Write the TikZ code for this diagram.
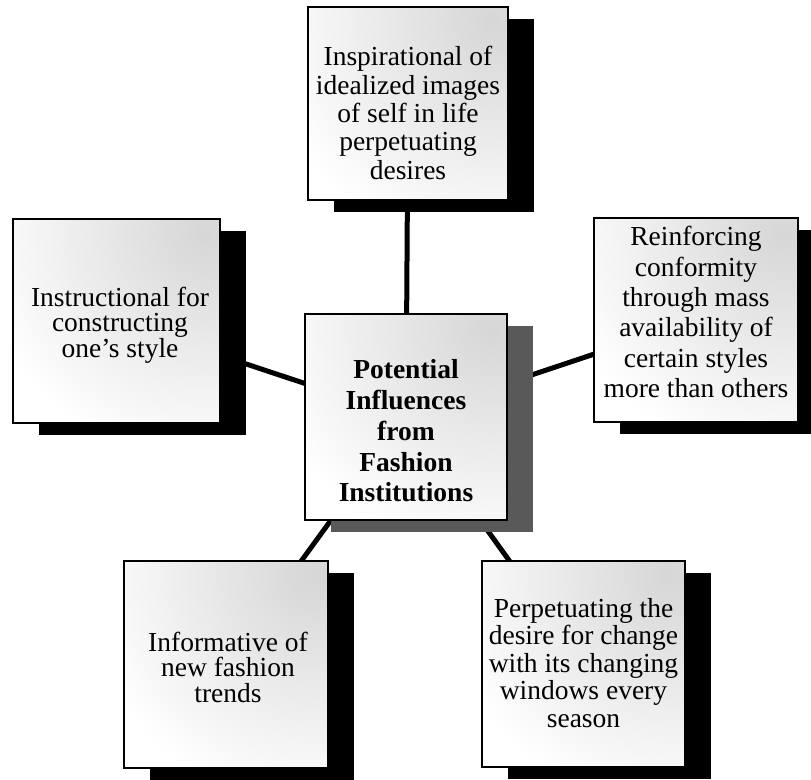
\documentclass[tikz,border=0pt]{standalone}
\usepackage{fontspec}
\setmainfont{Liberation Serif}
\usetikzlibrary{shadows,backgrounds}
% let tight line spacing stand even where ascenders meet descenders
\setlength{\lineskiplimit}{-100pt}

\begin{document}
\begin{tikzpicture}[x=1pt,y=-1pt,
  % outer boxes: white card, thick border, solid offset shadow, soft tint fading from the top right
  card/.style={rectangle, draw=black, line width=2.6pt, fill=white, inner sep=0pt,
    drop shadow={shadow xshift=26pt, shadow yshift=-12pt, opacity=1, fill=#1},
    path picture={\shade[inner color=black!16, outer color=white]
      ([xshift=-15pt,yshift=-15pt]path picture bounding box.north east) circle (230pt);}},
  card/.default=black,
  words/.style={align=center, inner sep=0pt, font=\fontsize{27.5}{#1}\selectfont},
  heavy/.style={align=center, inner sep=0pt, font=\fontsize{27.5}{#1}\bfseries\selectfont},
  link/.style={line width=5pt, draw=black}
]
\useasboundingbox (0,0) rectangle (811,779);

% boxes
\node[card, minimum width=200pt, minimum height=193pt] (top)   at (408,103.5) {};
\node[card, minimum width=207pt, minimum height=204pt] (left)  at (116.5,321) {};
\node[card, minimum width=204pt, minimum height=204pt] (right) at (696,320) {};
\node[card=black!65, minimum width=202pt, minimum height=206pt] (hub) at (406,417) {};
\node[card, minimum width=204pt, minimum height=207pt] (botl)  at (226,664.5) {};
\node[card, minimum width=203pt, minimum height=206pt] (botr)  at (583.5,664) {};

% texts
\node[words=28.3] (toptext) at (408,113)
  {Inspirational of\\ idealized images\\ of self in life\\ perpetuating\\ desires};
\node[words=25.5] (lefttext) at (120,325)
  {Instructional for\\ constructing\\ one’s style};
\node[words=30.3] (righttext) at (696,312)
  {Reinforcing\\ conformity\\ through mass\\ availability of\\ certain styles\\ more than others};
\node[heavy=30.8] (hubtext) at (406,431)
  {Potential\\ Influences\\ from\\ Fashion\\ Institutions};
\node[words=25.5] (botltext) at (228,667)
  {Informative of\\ new fashion\\ trends};
\node[words=27.5] (botrtext) at (583.5,663)
  {Perpetuating the\\ desire for change\\ with its changing\\ windows every\\ season};

% spokes from the hub, behind everything
\begin{scope}[on background layer]
  \draw[link] (hub.center) -- (top.center);
  \draw[link] (hub.center) -- (left.center);
  \draw[link] (hub.center) -- (right.center);
  \draw[link] (hub.center) -- (botl.center);
  \draw[link] (hub.center) -- (botr.center);
\end{scope}
\end{tikzpicture}
\end{document}
